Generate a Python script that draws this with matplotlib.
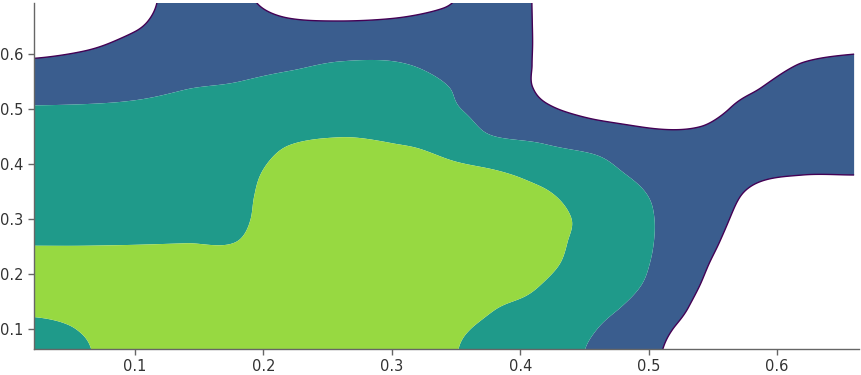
import numpy as np
import matplotlib
matplotlib.use("Agg")
import matplotlib.pyplot as plt

# Coarse density grid (rows = y, columns = x)
x_nodes = [0.02, 0.06, 0.10, 0.14, 0.18, 0.22, 0.26, 0.30, 0.34,
           0.38, 0.42, 0.46, 0.50, 0.54, 0.58, 0.62, 0.66]
y_nodes = [0.06, 0.10, 0.14, 0.18, 0.22, 0.26, 0.30, 0.34, 0.38,
           0.42, 0.46, 0.50, 0.54, 0.58, 0.62, 0.66, 0.70]

# columns listed per x node, values from y=0.06 up to y=0.70
col_002 = [2.55, 2.85, 3.10, 3.20, 3.10, 2.97, 2.82, 2.67, 2.51, 2.36, 2.20, 2.05, 1.65, 1.14, 0.70, 0.40, 0.20]
col_006 = [2.95, 3.03, 3.15, 3.20, 3.10, 2.97, 2.82, 2.67, 2.52, 2.37, 2.21, 2.06, 1.72, 1.28, 0.85, 0.55, 0.30]
col_010 = [3.20, 3.22, 3.25, 3.25, 3.15, 2.97, 2.83, 2.68, 2.54, 2.39, 2.24, 2.08, 1.85, 1.49, 1.17, 0.85, 0.60]
col_014 = [3.20, 3.25, 3.30, 3.30, 3.20, 2.98, 2.84, 2.70, 2.56, 2.41, 2.27, 2.13, 1.98, 1.75, 1.55, 1.45, 1.45]
col_018 = [3.25, 3.30, 3.35, 3.30, 3.20, 3.00, 2.88, 2.82, 2.74, 2.58, 2.40, 2.19, 2.05, 1.80, 1.55, 1.30, 1.15]
col_022 = [3.30, 3.35, 3.40, 3.45, 3.45, 3.46, 3.45, 3.43, 3.32, 3.10, 2.80, 2.52, 2.24, 1.90, 1.48, 1.05, 0.70]
col_026 = [3.35, 3.40, 3.45, 3.50, 3.50, 3.50, 3.45, 3.40, 3.30, 3.15, 2.93, 2.64, 2.36, 2.07, 1.56, 1.00, 0.70]
col_030 = [3.35, 3.40, 3.45, 3.50, 3.50, 3.50, 3.45, 3.35, 3.25, 3.10, 2.86, 2.60, 2.33, 2.07, 1.60, 1.05, 0.70]
col_034 = [3.10, 3.15, 3.30, 3.40, 3.45, 3.45, 3.40, 3.30, 3.17, 2.95, 2.67, 2.20, 2.05, 1.81, 1.50, 1.19, 0.90]
col_038 = [2.75, 2.88, 3.02, 3.15, 3.25, 3.25, 3.20, 3.12, 3.08, 2.59, 1.85, 1.60, 1.50, 1.42, 1.40, 1.35, 1.30]
col_042 = [2.60, 2.70, 2.85, 2.97, 3.10, 3.15, 3.20, 3.08, 2.79, 2.21, 1.68, 1.10, 0.85, 0.85, 0.85, 0.85, 0.85]
col_046 = [1.80, 2.00, 2.28, 2.50, 2.65, 2.72, 2.72, 2.55, 2.28, 1.95, 1.30, 0.75, 0.50, 0.40, 0.35, 0.35, 0.35]
col_050 = [1.15, 1.30, 1.65, 1.90, 2.02, 2.08, 2.08, 2.00, 1.80, 1.50, 1.05, 0.75, 0.60, 0.55, 0.55, 0.55, 0.55]
col_054 = [0.65, 0.72, 0.85, 1.00, 1.12, 1.25, 1.35, 1.40, 1.38, 1.25, 1.04, 0.85, 0.80, 0.80, 0.80, 0.80, 0.80]
col_058 = [0.40, 0.45, 0.50, 0.55, 0.62, 0.70, 0.80, 0.92, 1.08, 1.20, 1.25, 1.12, 0.95, 0.80, 0.70, 0.65, 0.60]
col_062 = [0.30, 0.32, 0.35, 0.38, 0.42, 0.48, 0.60, 0.80, 1.00, 1.20, 1.30, 1.30, 1.20, 1.02, 0.85, 0.75, 0.70]
col_066 = [0.30, 0.32, 0.35, 0.38, 0.42, 0.48, 0.60, 0.80, 1.00, 1.20, 1.30, 1.30, 1.22, 1.08, 0.92, 0.80, 0.72]

levels = [1.0, 2.0, 3.0, 10.0]
band_colors = ["#3a5d8e", "#1f9a8a", "#97d941"]
edge_color = "#440154"
x_ticks = [0.1, 0.2, 0.3, 0.4, 0.5, 0.6]
y_ticks = [0.1, 0.2, 0.3, 0.4, 0.5, 0.6]

cols = [col_002, col_006, col_010, col_014, col_018, col_022, col_026, col_030, col_034,
        col_038, col_042, col_046, col_050, col_054, col_058, col_062, col_066]
G = np.array(cols).T  # shape (ny, nx)


def cubic_matrix(nodes, fine):
    nodes = np.asarray(nodes)
    n = len(nodes)
    h = nodes[1] - nodes[0]
    W = np.zeros((len(fine), n))
    a = -0.5
    for i, v in enumerate(fine):
        t = (v - nodes[0]) / h
        k = int(np.floor(t))
        for j in range(k - 1, k + 3):
            d = abs(t - j)
            if d < 1:
                w = (a + 2) * d**3 - (a + 3) * d**2 + 1
            elif d < 2:
                w = a * d**3 - 5 * a * d**2 + 8 * a * d - 4 * a
            else:
                w = 0
            jj = min(max(j, 0), n - 1)
            W[i, jj] += w
    return W


xf = np.linspace(x_nodes[0], x_nodes[-1], 400)
yf = np.linspace(y_nodes[0], y_nodes[-1], 400)
Wx = cubic_matrix(x_nodes, xf)
Wy = cubic_matrix(y_nodes, yf)
F = Wy @ G @ Wx.T

fig = plt.figure(figsize=(8.62, 3.75), dpi=100)
ax = fig.add_axes([34 / 862, 26 / 375, 825 / 862, 346 / 375])
ax.contourf(xf, yf, F, levels=levels, colors=band_colors, antialiased=True)
ax.contour(xf, yf, F, levels=[1.0], colors=[edge_color], linewidths=1.0)

ax.set_xlim(0.0214, 0.6638)
ax.set_ylim(0.0636, 0.6927)
ax.set_xticks(x_ticks)
ax.set_yticks(y_ticks)
ax.set_xticklabels([f"{t:.1f}" for t in x_ticks])
ax.set_yticklabels([f"{t:.1f}" for t in y_ticks])
for s in ["top", "right"]:
    ax.spines[s].set_visible(False)
for s in ["left", "bottom"]:
    ax.spines[s].set_color("#666666")
    ax.spines[s].set_linewidth(1.0)
ax.tick_params(colors="#666666", labelcolor="#333333", labelsize=10.5, length=4, width=1)

fig.savefig("out.png", dpi=100)
